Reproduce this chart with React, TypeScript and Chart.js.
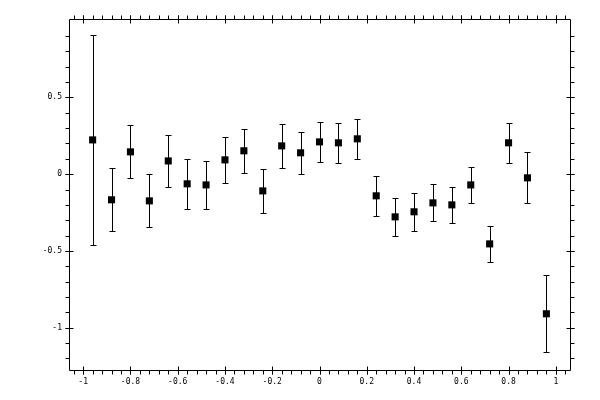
import React, { useRef, useEffect } from "react";
import { Chart, registerables } from "chart.js";

Chart.register(...registerables);

// measurement points and their symmetric y errors
const xValues = [
  -0.96, -0.88, -0.8, -0.72, -0.64, -0.56, -0.48, -0.4, -0.32, -0.24, -0.16, -0.08, 0,
  0.08, 0.16, 0.24, 0.32, 0.4, 0.48, 0.56, 0.64, 0.72, 0.8, 0.88, 0.96,
];
const yValues = [
  0.223, -0.167, 0.145, -0.174, 0.086, -0.063, -0.07, 0.093, 0.152, -0.109, 0.184, 0.139, 0.21,
  0.204, 0.23, -0.141, -0.278, -0.245, -0.187, -0.2, -0.07, -0.454, 0.204, -0.024, -0.909,
];
const yErrors = [
  0.685, 0.205, 0.173, 0.172, 0.172, 0.163, 0.157, 0.15, 0.145, 0.145, 0.142, 0.135, 0.132,
  0.131, 0.129, 0.129, 0.125, 0.125, 0.12, 0.116, 0.116, 0.116, 0.132, 0.165, 0.25,
];

// axis ticks
const xMajorTicks = [-1, -0.8, -0.6, -0.4, -0.2, 0, 0.2, 0.4, 0.6, 0.8, 1];
const xTickLabels = ["-1", "-0.8", "-0.6", "-0.4", "-0.2", "0", "0.2", "0.4", "0.6", "0.8", "1"];
const yMajorTicks = [-1, -0.5, 0, 0.5];
const yTickLabels = ["-1", "-0.5", "0", "0.5"];
const xMinorStep = 0.04;
const yMinorStep = 0.1;

const X_MIN = -1.06;
const X_MAX = 1.06;
const Y_MIN = -1.275;
const Y_MAX = 1.01;

export default function App() {
  const canvasRef = useRef<HTMLCanvasElement>(null);

  useEffect(() => {
    if (!canvasRef.current) return;

    // error bars under the markers
    const errorBars = {
      id: "errorBars",
      beforeDatasetsDraw(chart: any) {
        const { ctx } = chart;
        const xs = chart.scales.x;
        const ys = chart.scales.y;
        ctx.save();
        ctx.strokeStyle = "#000";
        ctx.lineWidth = 1;
        xValues.forEach((xv, i) => {
          const px = Math.round(xs.getPixelForValue(xv)) + 0.5;
          const top = Math.round(ys.getPixelForValue(yValues[i] + yErrors[i])) + 0.5;
          const bot = Math.round(ys.getPixelForValue(yValues[i] - yErrors[i])) + 0.5;
          ctx.beginPath();
          ctx.moveTo(px, top);
          ctx.lineTo(px, bot);
          ctx.moveTo(px - 3, top);
          ctx.lineTo(px + 3, top);
          ctx.moveTo(px - 3, bot);
          ctx.lineTo(px + 3, bot);
          ctx.stroke();
        });
        ctx.restore();
      },
    };

    // box frame with ticks on all four sides
    const frame = {
      id: "frame",
      afterDraw(chart: any) {
        const { ctx, chartArea } = chart;
        const { left, right, top, bottom } = chartArea;
        const xs = chart.scales.x;
        const ys = chart.scales.y;
        const L = left + 0.5;
        const R = right + 0.5;
        const T = top + 0.5;
        const B = bottom + 0.5;
        ctx.save();
        ctx.strokeStyle = "#000";
        ctx.lineWidth = 1;
        ctx.beginPath();
        ctx.rect(L, T, R - L, B - T);

        // minor ticks, outside only
        for (let v = -1.04; v <= 1.041; v += xMinorStep) {
          const px = Math.round(xs.getPixelForValue(v)) + 0.5;
          ctx.moveTo(px, B);
          ctx.lineTo(px, B + 4);
          ctx.moveTo(px, T);
          ctx.lineTo(px, T - 4);
        }
        for (let v = -1.2; v <= 0.91; v += yMinorStep) {
          const py = Math.round(ys.getPixelForValue(v)) + 0.5;
          ctx.moveTo(L, py);
          ctx.lineTo(L - 4, py);
          ctx.moveTo(R, py);
          ctx.lineTo(R + 4, py);
        }
        // major ticks cross the frame
        xMajorTicks.forEach((v) => {
          const px = Math.round(xs.getPixelForValue(v)) + 0.5;
          ctx.moveTo(px, B - 4);
          ctx.lineTo(px, B + 4);
          ctx.moveTo(px, T + 4);
          ctx.lineTo(px, T - 4);
        });
        yMajorTicks.forEach((v) => {
          const py = Math.round(ys.getPixelForValue(v)) + 0.5;
          ctx.moveTo(L - 4, py);
          ctx.lineTo(L + 4, py);
          ctx.moveTo(R - 4, py);
          ctx.lineTo(R + 4, py);
        });
        ctx.stroke();

        ctx.fillStyle = "#000";
        ctx.font = "8px 'DejaVu Sans Mono'";
        ctx.textAlign = "center";
        ctx.textBaseline = "middle";
        xMajorTicks.forEach((v, i) => {
          ctx.fillText(xTickLabels[i], xs.getPixelForValue(v), bottom + 12);
        });
        ctx.textAlign = "right";
        yMajorTicks.forEach((v, i) => {
          ctx.fillText(yTickLabels[i], left - 7, ys.getPixelForValue(v));
        });
        ctx.restore();
      },
    };

    const chart = new Chart(canvasRef.current, {
      type: "scatter",
      data: {
        datasets: [
          {
            data: xValues.map((x, i) => ({ x, y: yValues[i] })),
            pointStyle: "rect",
            pointRadius: 5,
            backgroundColor: "#000",
            borderColor: "#000",
            borderWidth: 0,
          },
        ],
      },
      options: {
        responsive: false,
        animation: false,
        layout: { padding: { left: 69, right: 30, top: 19, bottom: 30 } },
        scales: {
          x: { type: "linear", min: X_MIN, max: X_MAX, display: false },
          y: { type: "linear", min: Y_MIN, max: Y_MAX, display: false },
        },
        plugins: {
          legend: { display: false },
          tooltip: { enabled: false },
        },
      },
      plugins: [errorBars, frame],
    });

    return () => chart.destroy();
  }, []);

  return (
    <div style={{ position: "absolute", left: 0, top: 0, width: 600, height: 400, background: "#fff" }}>
      <canvas ref={canvasRef} width={600} height={400} style={{ display: "block" }}></canvas>
    </div>
  );
}
